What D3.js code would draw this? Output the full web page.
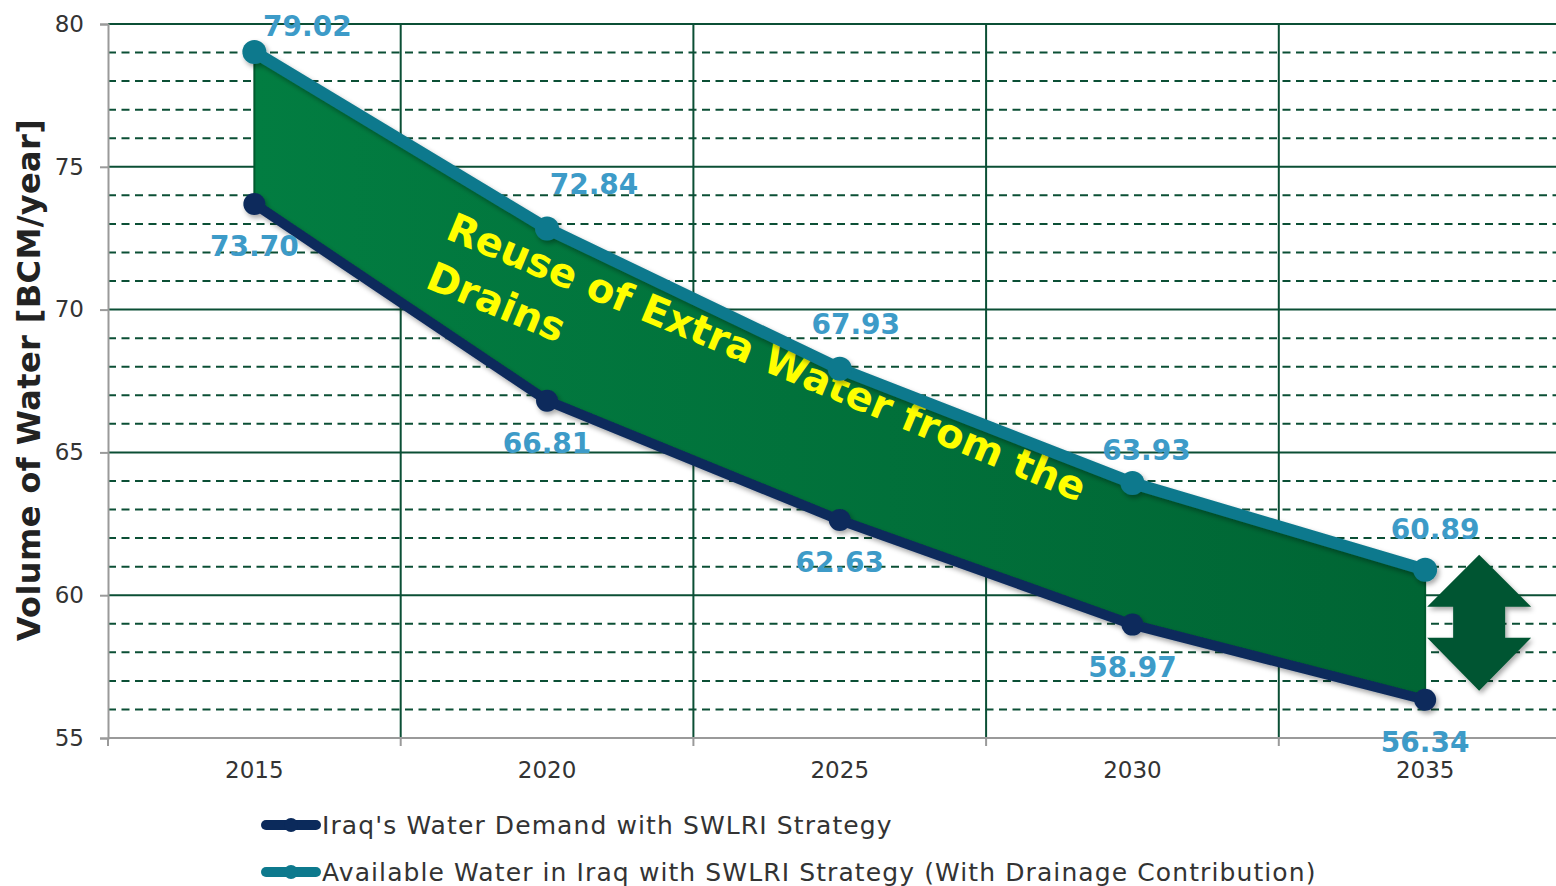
<!DOCTYPE html>
<html>
<head>
<meta charset="utf-8">
<script src="https://cdn.jsdelivr.net/npm/d3@7"></script>
<style>
  html, body { margin: 0; padding: 0; background: #fff; }
  svg { display: block; font-family: 'DejaVu Sans', Verdana, sans-serif; }
</style>
</head>
<body>
<div id="chart"></div>
<script>
// chart values
const years = ['2015', '2020', '2025', '2030', '2035'];
const demand = [73.70, 66.81, 62.63, 58.97, 56.34];
const available = [79.02, 72.84, 67.93, 63.93, 60.89];
const yTicks = [55, 60, 65, 70, 75, 80];
const seriesNames = [
  "Iraq's Water Demand with SWLRI Strategy",
  'Available Water in Iraq with SWLRI Strategy (With Drainage Contribution)',
];
const yTitle = 'Volume of Water [BCM/year]';
const noteLines = ['Reuse of Extra Water from the', 'Drains'];

const width = 1556;
const height = 886;
const margin = { top: 24, left: 108, bottom: 148 };
const plotBottom = height - margin.bottom;
const bandW = 292.7;

const gridColor = '#0b4f35';
const axisColor = '#9a9a9a';
const navy = '#0b2a5b';
const teal = '#0d798d';
const labelColor = '#3d9bc8';

const svg = d3
  .select('#chart')
  .append('svg')
  .attr('width', width)
  .attr('height', height);

const defs = svg.append('defs');

const fillGrad = defs
  .append('linearGradient')
  .attr('id', 'fillGrad')
  .attr('x1', 0)
  .attr('x2', 1)
  .attr('y1', 0)
  .attr('y2', 0);
fillGrad.append('stop').attr('offset', '0%').attr('stop-color', '#027d41');
fillGrad.append('stop').attr('offset', '100%').attr('stop-color', '#006534');

const shadow = defs
  .append('filter')
  .attr('id', 'shadow')
  .attr('x', '-20%')
  .attr('y', '-20%')
  .attr('width', '140%')
  .attr('height', '140%');
shadow
  .append('feDropShadow')
  .attr('dx', 2)
  .attr('dy', 3)
  .attr('stdDeviation', 2.5)
  .attr('flood-color', '#000')
  .attr('flood-opacity', 0.35);

const x = d3
  .scaleBand()
  .domain(years)
  .range([margin.left, margin.left + bandW * years.length])
  .paddingInner(0)
  .paddingOuter(0);
const cx = (d) => x(d) + x.bandwidth() / 2;

const y = d3.scaleLinear().domain([55, 80]).range([plotBottom, margin.top]);

// minor dashed grid (every unit)
const minor = d3.range(56, 80).filter((v) => v % 5 !== 0);
svg
  .append('g')
  .selectAll('line')
  .data(minor)
  .join('line')
  .attr('x1', margin.left)
  .attr('x2', width)
  .attr('y1', (d) => y(d))
  .attr('y2', (d) => y(d))
  .attr('stroke', gridColor)
  .attr('stroke-width', 2)
  .attr('stroke-dasharray', '8,5.5');

// major solid grid
svg
  .append('g')
  .selectAll('line')
  .data(yTicks.filter((v) => v > 55))
  .join('line')
  .attr('x1', margin.left)
  .attr('x2', width)
  .attr('y1', (d) => y(d))
  .attr('y2', (d) => y(d))
  .attr('stroke', gridColor)
  .attr('stroke-width', 2);

// vertical grid at category boundaries
svg
  .append('g')
  .selectAll('line')
  .data(years.slice(1))
  .join('line')
  .attr('x1', (d) => x(d))
  .attr('x2', (d) => x(d))
  .attr('y1', margin.top)
  .attr('y2', plotBottom)
  .attr('stroke', gridColor)
  .attr('stroke-width', 2);

// axes
const yAxis = svg
  .append('g')
  .attr('transform', `translate(${margin.left},0)`)
  .call(d3.axisLeft(y).tickValues(yTicks).tickSize(8).tickPadding(16));
yAxis.select('.domain').attr('stroke', axisColor).attr('stroke-width', 2);
yAxis.selectAll('.tick line').attr('stroke', axisColor).attr('stroke-width', 2);
yAxis
  .selectAll('.tick text')
  .attr('fill', '#333')
  .style('font-size', '23px')
  .style('font-family', "'DejaVu Sans', Verdana, sans-serif");

const xAxis = svg
  .append('g')
  .attr('transform', `translate(0,${plotBottom})`)
  .call(d3.axisBottom(x).tickSize(0).tickPadding(24));
xAxis.select('.domain').attr('stroke', axisColor).attr('stroke-width', 2)
  .attr('d', `M${margin.left},0H${width}`);
xAxis
  .selectAll('.tick text')
  .attr('fill', '#333')
  .style('font-size', '23px')
  .style('font-family', "'DejaVu Sans', Verdana, sans-serif");
xAxis
  .append('g')
  .selectAll('line')
  .data(years)
  .join('line')
  .attr('x1', (d) => x(d))
  .attr('x2', (d) => x(d))
  .attr('y1', 0)
  .attr('y2', 8)
  .attr('stroke', axisColor)
  .attr('stroke-width', 2);

// y axis title
svg
  .append('text')
  .attr('transform', `translate(40,${(margin.top + plotBottom) / 2 - 1}) rotate(-90)`)
  .attr('text-anchor', 'middle')
  .attr('font-size', 32)
  .attr('font-weight', 'bold')
  .attr('letter-spacing', 0.4)
  .attr('fill', '#222')
  .text(yTitle);

// filled band between the two series
const band = years.map((d, i) => ({ year: d, lo: demand[i], hi: available[i] }));
svg
  .append('path')
  .datum(band)
  .attr('fill', 'url(#fillGrad)')
  .attr('stroke', '#005a2e')
  .attr('stroke-width', 2)
  .attr(
    'd',
    d3
      .area()
      .x((d) => cx(d.year))
      .y0((d) => y(d.lo))
      .y1((d) => y(d.hi) - 2)
  );

// annotation text
const angle = 22.6;
const note = svg
  .append('g')
  .attr('transform', `translate(444,238) rotate(${angle})`);
note
  .selectAll('text')
  .data(noteLines)
  .join('text')
  .attr('x', 0)
  .attr('y', (d, i) => i * 53)
  .attr('font-size', 40)
  .attr('font-weight', 'bold')
  .attr('fill', '#ffff00')
  .text((d) => d);

// lines and markers
const series = [
  { values: demand, color: navy, width: 10, r: 11 },
  { values: available, color: teal, width: 12, r: 12 },
];
const line = d3
  .line()
  .x((d) => cx(d.year))
  .y((d) => y(d.v));

series.forEach((s) => {
  const pts = years.map((d, i) => ({ year: d, v: s.values[i] }));
  const g = svg.append('g').attr('filter', 'url(#shadow)');
  g.append('path')
    .datum(pts)
    .attr('fill', 'none')
    .attr('stroke', s.color)
    .attr('stroke-width', s.width)
    .attr('stroke-linejoin', 'round')
    .attr('d', line);
  g.selectAll('circle')
    .data(pts)
    .join('circle')
    .attr('cx', (d) => cx(d.year))
    .attr('cy', (d) => y(d.v))
    .attr('r', s.r)
    .attr('fill', s.color);
});

// double arrow beside the last category
const last = years.length - 1;
const ax = cx(years[last]) + 54;
const arrowTop = y(available[last]) - 15;
const arrowBot = y(demand[last]) - 9;
const headW = 52;
const shaftW = 26;
const headH = 52;
const arrow = [
  [ax, arrowTop],
  [ax + headW, arrowTop + headH],
  [ax + shaftW, arrowTop + headH],
  [ax + shaftW, arrowBot - headH - 1],
  [ax + headW, arrowBot - headH - 1],
  [ax, arrowBot],
  [ax - headW, arrowBot - headH - 1],
  [ax - shaftW, arrowBot - headH - 1],
  [ax - shaftW, arrowTop + headH],
  [ax - headW, arrowTop + headH],
];
svg
  .append('path')
  .attr('d', d3.line()(arrow) + 'Z')
  .attr('fill', '#015532')
  .attr('filter', 'url(#shadow)');

// data labels (label placement nudges as in the original)
const labelFont = 28;
const availNudge = [[53, 0], [47, -18], [16, -19], [14, -7], [10, -15]];
svg
  .append('g')
  .selectAll('text')
  .data(available)
  .join('text')
  .attr('x', (d, i) => cx(years[i]) + availNudge[i][0])
  .attr('y', (d, i) => y(d) - 16 + availNudge[i][1])
  .attr('text-anchor', 'middle')
  .attr('font-size', labelFont)
  .attr('font-weight', 'bold')
  .attr('fill', labelColor)
  .text((d) => d.toFixed(2));
svg
  .append('g')
  .selectAll('text')
  .data(demand)
  .join('text')
  .attr('x', (d, i) => cx(years[i]))
  .attr('y', (d) => y(d) + 52)
  .attr('text-anchor', 'middle')
  .attr('font-size', labelFont)
  .attr('font-weight', 'bold')
  .attr('fill', labelColor)
  .text((d) => d.toFixed(2));

// legend
const legend = svg
  .append('g')
  .selectAll('g')
  .data(series)
  .join('g')
  .attr('transform', (d, i) => `translate(262,${825 + i * 47})`);
legend
  .append('line')
  .attr('x1', 4)
  .attr('x2', 54)
  .attr('stroke', (d) => d.color)
  .attr('stroke-width', 10)
  .attr('stroke-linecap', 'round');
legend
  .append('circle')
  .attr('cx', 29)
  .attr('r', 7)
  .attr('fill', (d) => d.color);
legend
  .append('text')
  .attr('x', 60)
  .attr('dy', '0.35em')
  .attr('font-size', 25)
  .attr('letter-spacing', 1.1)
  .attr('fill', '#333')
  .text((d, i) => seriesNames[i]);
</script>
</body>
</html>
